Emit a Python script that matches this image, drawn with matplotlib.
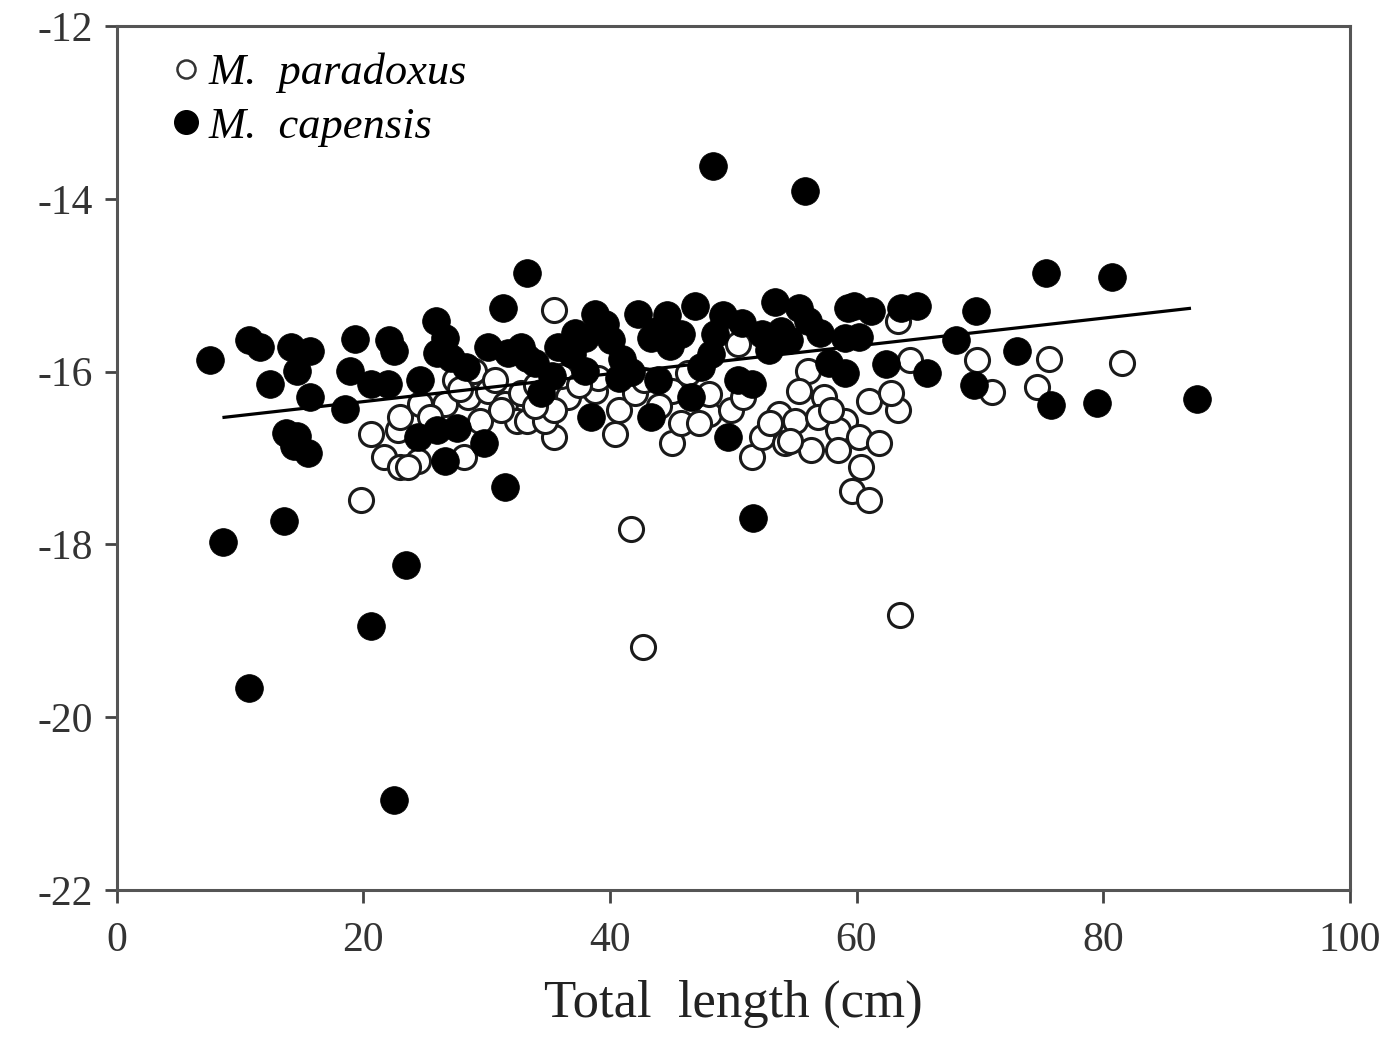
import matplotlib
matplotlib.use("Agg")
import matplotlib.pyplot as plt
from matplotlib.lines import Line2D

plt.rcParams['font.family'] = ['Liberation Serif', 'DejaVu Serif']
plt.rcParams['axes.unicode_minus'] = False

# M. capensis (filled)
cap_x = [7.6, 10.7, 11.6, 14.1, 15.7, 14.6, 12.4, 15.7, 18.5, 19.3, 22.1, 22.5, 18.9, 20.6, 22.0,
         13.7, 14.4, 15.5, 14.6, 8.6, 10.7, 13.6, 20.6, 22.5, 23.5,
         31.3, 25.9, 26.6, 27.1, 26.0, 24.6, 30.1, 31.7, 32.8, 24.4, 26.0, 27.6, 26.6, 29.8, 31.5, 33.3,
         38.8, 38.0, 40.1, 35.8, 42.3, 43.3, 33.3, 34.4, 40.7, 38.5, 43.3, 38.0,
         46.9, 53.4, 43.7, 45.8, 48.5, 50.7, 52.3, 53.9, 43.9, 46.6, 50.4, 51.5, 49.6, 48.2, 44.6,
         55.3, 59.3, 61.2, 63.6, 54.5, 56.1, 59.1, 59.1, 62.4, 59.8,
         48.4, 55.8, 51.6, 65.7, 64.9, 68.1, 69.7, 69.5, 73.0, 75.4, 75.8, 80.7, 79.5, 87.6,
         28.3, 33.9, 36.9, 39.6, 41.0, 44.9, 47.4, 52.9, 57.0, 60.2, 35.3, 37.2, 49.2, 41.7, 57.8]
cap_y = [-15.87, -15.64, -15.72, -15.72, -15.76, -15.99, -16.14, -16.30, -16.43, -15.62, -15.64, -15.76, -15.99, -16.14, -16.14,
         -16.71, -16.86, -16.94, -16.75, -17.97, -19.66, -17.73, -18.94, -20.96, -18.24,
         -15.27, -15.41, -15.61, -15.84, -15.79, -16.10, -15.72, -15.79, -15.72, -16.76, -16.68, -16.65, -17.03, -16.83, -17.34, -14.86,
         -15.33, -15.61, -15.64, -15.72, -15.33, -15.61, -15.84, -16.25, -16.07, -16.53, -16.53, -15.99,
         -15.24, -15.20, -15.53, -15.56, -15.56, -15.44, -15.56, -15.53, -16.10, -16.30, -16.10, -16.14, -16.76, -15.80, -15.35,
         -15.26, -15.26, -15.30, -15.26, -15.64, -15.41, -15.61, -16.02, -15.91, -15.24,
         -13.62, -13.91, -17.69, -16.02, -15.24, -15.64, -15.30, -16.16, -15.76, -14.86, -16.39, -14.90, -16.36, -16.32,
         -15.95, -15.90, -15.80, -15.45, -15.85, -15.70, -15.95, -15.75, -15.55, -15.60, -16.05, -15.55, -15.35, -16.00, -15.90]

# M. paradoxus (open)
par_x = [19.8, 20.6, 22.8, 21.7, 23.0, 23.0, 24.6, 26.6, 28.5, 30.1, 31.5, 32.8, 24.4, 28.2, 25.4, 29.5, 32.5,
         23.6, 27.4, 29.0, 30.7, 35.5, 35.5, 33.3, 34.7, 36.6, 35.5, 38.8, 40.4, 40.7, 42.0, 42.8, 39.0, 36.0,
         33.9, 41.7, 42.7, 45.0, 45.8, 51.5, 48.0, 49.8, 52.3, 53.7, 48.0, 45.0, 46.3, 50.4,
         56.1, 55.3, 57.4, 55.0, 56.9, 59.1, 61.0, 63.4, 62.8, 56.3, 54.2, 58.5, 58.5, 60.2, 61.8, 60.4, 59.6,
         61.0, 63.5, 63.4, 64.3, 69.8, 71.0, 74.6, 75.6, 81.5,
         27.8, 31.2, 34.0, 37.5, 44.0, 47.2, 50.8, 53.0, 57.9, 54.6]
par_y = [-17.49, -16.72, -16.68, -16.99, -17.10, -16.53, -16.37, -16.37, -16.30, -16.22, -16.37, -16.25, -17.03, -16.99, -16.53, -16.57, -16.57,
         -17.10, -16.10, -15.99, -16.10, -15.29, -16.76, -16.57, -16.57, -16.30, -16.45, -16.22, -16.72, -16.45, -16.25, -16.10, -16.07, -16.05,
         -16.40, -17.82, -19.19, -16.83, -16.60, -16.99, -16.49, -16.45, -16.76, -16.49, -16.26, -16.22, -16.02, -15.68,
         -15.99, -16.22, -16.30, -16.57, -16.53, -16.57, -16.34, -16.45, -16.25, -16.91, -16.83, -16.68, -16.91, -16.76, -16.83, -17.11, -17.38,
         -17.49, -18.82, -15.41, -15.87, -15.87, -16.24, -16.18, -15.85, -15.90,
         -16.20, -16.45, -16.15, -16.15, -16.40, -16.60, -16.30, -16.60, -16.45, -16.80]

# regression line
fit_x = [8.7, 87.0]
fit_slope = 0.0161
fit_intercept = -16.67

x_ticks = [0, 20, 40, 60, 80, 100]
y_ticks = [-22, -20, -18, -16, -14, -12]

fig = plt.figure(figsize=(13.9, 10.38), dpi=100)
ax = fig.add_axes([0.084, 0.1426, 0.887, 0.8324])

ax.scatter(par_x, par_y, s=300, facecolors='white', edgecolors='#1a1a1a', linewidths=2.2, zorder=2)
ax.scatter(cap_x, cap_y, s=400, facecolors='black', edgecolors='black', linewidths=0.5, zorder=3)
fy = [fit_intercept + fit_slope * v for v in fit_x]
ax.plot(fit_x, fy, color='black', lw=2.3, zorder=4)

ax.set_xlim(0, 100)
ax.set_ylim(-22, -12)
ax.set_xticks(x_ticks)
ax.set_yticks(y_ticks)
ax.tick_params(direction='out', length=9, width=2, colors='#444444', labelsize=30, labelcolor='#333333')
ax.tick_params(axis='x', pad=14)
ax.tick_params(axis='y', pad=8)
for s in ax.spines.values():
    s.set_color('#555555')
    s.set_linewidth(2.2)

ax.set_xlabel('Total  length (cm)', fontsize=38, color='#222222', labelpad=14)

handles = [Line2D([], [], marker='o', linestyle='none', markersize=13, markerfacecolor='white',
                  markeredgecolor='#333333', markeredgewidth=1.8),
           Line2D([], [], marker='o', linestyle='none', markersize=17, markerfacecolor='black',
                  markeredgecolor='black')]
ax.legend(handles, ['M.  paradoxus', 'M.  capensis'], loc='upper left', bbox_to_anchor=(0.02, 1.005),
          frameon=False, handlelength=0.6, handletextpad=0.2, labelspacing=0.3, borderaxespad=0.3,
          prop={'family': 'Liberation Serif', 'style': 'italic', 'size': 32})

fig.savefig('out.png', dpi=100, facecolor='white')
